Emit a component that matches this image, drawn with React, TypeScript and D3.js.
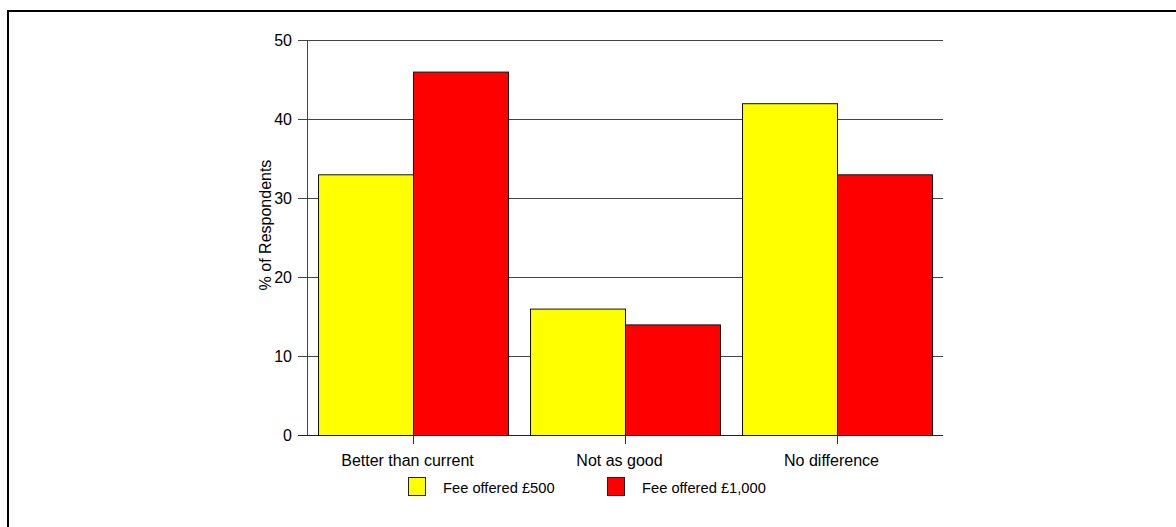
import React from "react";
import * as d3 from "d3";

const categories = ["Better than current", "Not as good", "No difference"];
const seriesNames = ["Fee offered £500", "Fee offered £1,000"];
const fee500 = [33, 16, 42];
const fee1000 = [46, 14, 33];
const yTicks = [0, 10, 20, 30, 40, 50];
const colors = ["#ffff00", "#ff0000"];

const W = 1176;
const H = 527;
const left = 307;
const right = 943;
const top = 40;
const bottom = 435;

export default function App() {
  const x = d3.scaleBand<string>().domain(categories).range([left, right]).paddingInner(0).paddingOuter(0);
  const inner = d3.scaleBand<number>().domain([0, 1]).range([0, x.bandwidth()]).paddingOuter(0.116).paddingInner(0);
  const y = d3.scaleLinear().domain([0, 50]).range([bottom, top]);
  const series = [fee500, fee1000];
  const font = "Arial, 'Liberation Sans', sans-serif";
  return (
    <svg width={W} height={H} style={{ position: "absolute", left: 0, top: 0, background: "#fff" }} fontFamily={font}>
      <path d={`M8,${H + 5} L8,11 L${W + 5},11`} fill="none" stroke="#000" strokeWidth={2} />
      {yTicks.map((t) => (
        <g key={t}>
          <line x1={298} x2={right} y1={y(t) + 0.5} y2={y(t) + 0.5} stroke={t === 0 ? "#222" : "#444"} strokeWidth={1} />
          <text x={292} y={y(t)} dy="0.35em" textAnchor="end" fontSize={16} fill="#000">{t}</text>
        </g>
      ))}
      <line x1={left + 0.5} x2={left + 0.5} y1={top} y2={bottom} stroke="#444" />
      {categories.map((c, ci) =>
        series.map((s, si) => (
          <rect
            key={c + si}
            x={(x(c) as number) + (inner(si) as number) + 0.5}
            y={y(s[ci]) + 0.5}
            width={inner.bandwidth()}
            height={bottom - y(s[ci])}
            fill={colors[si]}
            stroke="#111"
            strokeWidth={1}
          />
        ))
      )}
      {categories.map((c) => {
        const cx = Math.round((x(c) as number) + x.bandwidth() / 2) + 0.5;
        return (
          <g key={c}>
            <line x1={cx} x2={cx} y1={bottom} y2={bottom + 9} stroke="#333" />
            <text x={cx - 6} y={460} dy="0.35em" textAnchor="middle" fontSize={16} fill="#000">{c}</text>
          </g>
        );
      })}
      <text transform={`translate(271,225) rotate(-90)`} textAnchor="middle" fontSize={16} fill="#000">% of Respondents</text>
      {seriesNames.map((n, i) => {
        const lx = 408 + i * 199;
        return (
          <g key={n}>
            <rect x={lx + 0.5} y={477.5} width={17} height={18} fill={colors[i]} stroke="#222" />
            <text x={lx + 35} y={488} dy="0.35em" fontSize={14.7} fill="#000">{n}</text>
          </g>
        );
      })}
    </svg>
  );
}
